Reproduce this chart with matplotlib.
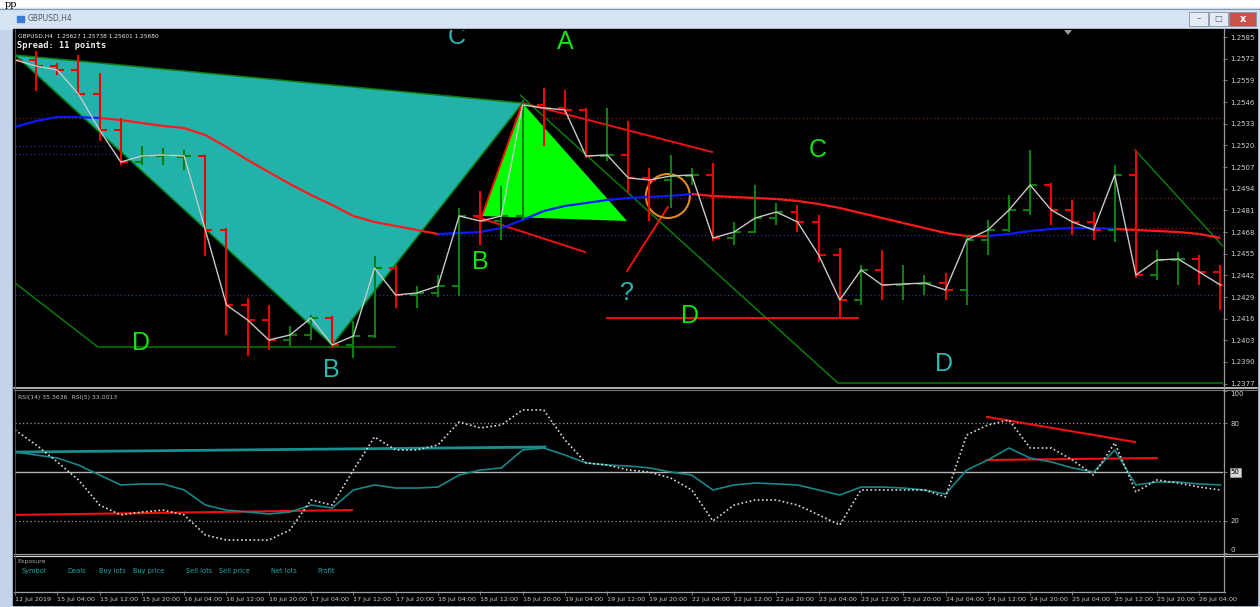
import matplotlib
matplotlib.use("Agg")
import matplotlib.pyplot as plt
from matplotlib.patches import Polygon, Ellipse, Rectangle
from matplotlib.collections import LineCollection

# ---------------- GBPUSD H4 bars (12 Jul 20:00 .. 26 Jul 08:00) ----------------
bar_open = [1.25724, 1.25712, 1.25676, 1.25652, 1.25508, 1.25292, 1.25100, 1.25136, 1.25130, 1.25136,
            1.24692, 1.24242, 1.24152, 1.24032, 1.24062, 1.24164, 1.24002, 1.24056, 1.24464, 1.24302,
            1.24314, 1.24356, 1.24776, 1.24746, 1.24776, 1.25442, 1.25424, 1.25412, 1.25136, 1.25142,
            1.25004, 1.24992, 1.25016, 1.25022, 1.24644, 1.24680, 1.24764, 1.24800, 1.24740, 1.24542,
            1.24272, 1.24452, 1.24362, 1.24368, 1.24374, 1.24332, 1.24632, 1.24692, 1.24812, 1.24962,
            1.24812, 1.24740, 1.24692, 1.25022, 1.24422, 1.24512, 1.24518, 1.24440]
bar_high = [1.25748, 1.25766, 1.25694, 1.25742, 1.25634, 1.25364, 1.25196, 1.25184, 1.25172, 1.25142,
            1.24704, 1.24284, 1.24242, 1.24116, 1.24182, 1.24176, 1.24146, 1.24536, 1.24482, 1.24356,
            1.24422, 1.24824, 1.24926, 1.24956, 1.25472, 1.25544, 1.25532, 1.25424, 1.25424, 1.25346,
            1.25064, 1.25142, 1.25064, 1.25094, 1.24740, 1.24962, 1.24854, 1.24842, 1.24782, 1.24584,
            1.24482, 1.24572, 1.24482, 1.24422, 1.24434, 1.24662, 1.24752, 1.24902, 1.25172, 1.24974,
            1.24872, 1.24800, 1.25082, 1.25172, 1.24572, 1.24560, 1.24542, 1.24482]
bar_low = [1.25688, 1.25526, 1.25622, 1.25502, 1.25226, 1.25082, 1.25082, 1.25082, 1.25052, 1.24536,
           1.24062, 1.23936, 1.23972, 1.23996, 1.24032, 1.23984, 1.23924, 1.24044, 1.24224, 1.24224,
           1.24290, 1.24296, 1.24602, 1.24632, 1.24752, 1.25196, 1.25394, 1.25124, 1.25106, 1.24914,
           1.24746, 1.24824, 1.24962, 1.24626, 1.24602, 1.24674, 1.24722, 1.24680, 1.24500, 1.24164,
           1.24242, 1.24272, 1.24272, 1.24302, 1.24272, 1.24242, 1.24542, 1.24680, 1.24782, 1.24722,
           1.24662, 1.24632, 1.24620, 1.24404, 1.24392, 1.24362, 1.24362, 1.24212]
bar_close = [1.25712, 1.25676, 1.25652, 1.25508, 1.25292, 1.25100, 1.25136, 1.25142, 1.25136, 1.24692,
             1.24242, 1.24152, 1.24032, 1.24062, 1.24164, 1.24002, 1.24056, 1.24464, 1.24302, 1.24314,
             1.24356, 1.24776, 1.24746, 1.24776, 1.25442, 1.25424, 1.25412, 1.25136, 1.25142, 1.25004,
             1.24992, 1.25016, 1.25022, 1.24644, 1.24680, 1.24764, 1.24800, 1.24740, 1.24542, 1.24272,
             1.24452, 1.24362, 1.24368, 1.24374, 1.24332, 1.24632, 1.24692, 1.24812, 1.24962, 1.24812,
             1.24740, 1.24692, 1.25022, 1.24422, 1.24512, 1.24518, 1.24440, 1.24362]

# two-colour moving average
ma_values = [1.25310, 1.25346, 1.25370, 1.25370, 1.25364, 1.25352, 1.25334, 1.25316, 1.25304, 1.25262,
             1.25190, 1.25112, 1.25040, 1.24968, 1.24902, 1.24842, 1.24776, 1.24740, 1.24716, 1.24692,
             1.24668, 1.24674, 1.24680, 1.24704, 1.24752, 1.24806, 1.24836, 1.24854, 1.24872, 1.24884,
             1.24890, 1.24896, 1.24908, 1.24896, 1.24890, 1.24884, 1.24878, 1.24866, 1.24848, 1.24824,
             1.24794, 1.24764, 1.24734, 1.24704, 1.24674, 1.24656, 1.24656, 1.24668, 1.24686, 1.24698,
             1.24704, 1.24704, 1.24698, 1.24692, 1.24686, 1.24680, 1.24668, 1.24644]
ma_trend = ["up"] * 4 + ["down"] * 16 + ["up"] * 12 + ["down"] * 14 + ["up"] * 6 + ["down"] * 5

# oscillator window
osc_slow = [62.3, 60.5, 58.6, 54.3, 48.1, 42.0, 42.6, 42.6, 38.9, 29.6,
            26.5, 25.3, 24.1, 25.3, 29.6, 27.8, 38.9, 42.0, 40.1, 40.1,
            40.7, 48.1, 51.2, 52.5, 63.6, 64.8, 60.5, 55.6, 54.3, 53.7,
            52.5, 50.0, 48.1, 38.9, 42.0, 43.2, 42.6, 42.0, 38.9, 35.8,
            40.7, 40.7, 40.1, 38.9, 36.4, 51.2, 57.4, 64.8, 58.6, 56.2,
            52.5, 50.0, 63.6, 42.0, 43.8, 43.8, 42.6, 42.0]
osc_fast = [75.9, 66.7, 56.2, 45.1, 29.6, 23.5, 25.3, 26.5, 23.5, 11.1,
            8.0, 8.0, 8.0, 14.2, 32.7, 29.6, 51.2, 71.6, 63.6, 63.6,
            66.7, 80.9, 77.2, 79.0, 88.3, 88.3, 69.8, 55.6, 54.3, 51.2,
            50.0, 46.3, 38.9, 19.8, 29.6, 32.7, 32.7, 29.6, 23.5, 17.3,
            38.9, 38.9, 38.9, 38.9, 34.6, 72.8, 79.0, 82.1, 64.8, 64.8,
            57.4, 48.1, 67.9, 37.7, 45.1, 43.2, 40.7, 38.9]
osc_levels = [80, 50, 20]

price_ticks = [1.2585, 1.2572, 1.2559, 1.2546, 1.2533, 1.2520, 1.2507, 1.2494, 1.2481,
               1.2468, 1.2455, 1.2442, 1.2429, 1.2416, 1.2403, 1.2390, 1.2377]
date_ticks = [0, 2, 4, 6, 8, 10, 12, 14, 16, 18, 20, 22, 24, 26, 28, 30, 32, 34, 36, 38,
              40, 42, 44, 46, 48, 50, 52, 54, 56]
date_labels = ["12 Jul 2019", "15 Jul 04:00", "15 Jul 12:00", "15 Jul 20:00", "16 Jul 04:00",
               "16 Jul 12:00", "16 Jul 20:00", "17 Jul 04:00", "17 Jul 12:00", "17 Jul 20:00",
               "18 Jul 04:00", "18 Jul 12:00", "18 Jul 20:00", "19 Jul 04:00", "19 Jul 12:00",
               "19 Jul 20:00", "22 Jul 04:00", "22 Jul 12:00", "22 Jul 20:00", "23 Jul 04:00",
               "23 Jul 12:00", "23 Jul 20:00", "24 Jul 04:00", "24 Jul 12:00", "24 Jul 20:00",
               "25 Jul 04:00", "25 Jul 12:00", "25 Jul 20:00", "26 Jul 04:00"]

# chart objects (bar index, price)
xab_triangle = [(0, 1.25742), (24, 1.25454), (15, 1.24002)]
abc_triangle = [(24, 1.25454), (22.08, 1.24776), (28.94, 1.24746)]
green_paths = [
    [(0, 1.25742), (24, 1.25454)],
    [(0, 1.25742), (15, 1.24002)],
    [(15, 1.24002), (24, 1.25454)],
    [(0, 1.24374), (3.92, 1.23990), (17.97, 1.23990)],
    [(23.9, 1.25500), (38.91, 1.23774), (57.3, 1.23774)],
    [(52.96, 1.25172), (57.5, 1.24542)],
]
red_paths = [
    [(24, 1.25454), (32.96, 1.25160)],
    [(21.7, 1.24776), (26.95, 1.24560)],
    [(22.08, 1.24776), (24, 1.25454)],
    [(28.94, 1.24446), (30.87, 1.24830)],
    [(27.99, 1.24164), (39.86, 1.24164)],
]
level_prices = [1.25364, 1.25196, 1.25148, 1.24884, 1.24704, 1.24662, 1.24302]
level_spans = [(0, 57.3), (0, 15), (0, 11), (27, 57.3), (52, 57.3), (20, 57.3), (0, 57.3)]
level_kinds = ["sell", "buy", "buy", "sell", "sell", "buy", "buy"]
circle_center = (30.87, 1.24896)
pattern_labels = [("C", 20.9, 1.25850, "cyan"), ("A", 26.0, 1.25820, "green"),
                  ("C", 37.97, 1.25172, "green"), ("B", 21.99, 1.24500, "green"),
                  ("?", 28.94, 1.24314, "cyan"), ("D", 31.9, 1.24176, "green"),
                  ("D", 5.96, 1.24014, "green"), ("B", 14.94, 1.23852, "cyan"),
                  ("D", 43.92, 1.23888, "cyan")]
osc_teal_line = [(0, 62.3), (25.06, 65.4)]
osc_red_lines = [[(0, 23.5), (15.93, 26.5)],
                 [(45.96, 84.0), (52.96, 68.5)],
                 [(45.96, 57.4), (54.0, 58.6)]]
exposure_cols = [("Symbol", 22), ("Deals", 67), ("Buy lots", 99), ("Buy price", 133),
                 ("Sell lots", 186), ("Sell price", 219), ("Net lots", 271), ("Profit", 317)]

# ---------------- figure / window chrome ----------------
W, H = 1260, 607
fig = plt.figure(figsize=(12.6, 6.07), dpi=100, facecolor="white")


def px_rect(x0, y0, x1, y1):
    return [x0 / W, 1 - y1 / H, (x1 - x0) / W, (y1 - y0) / H]


chrome = fig.add_axes([0, 0, 1, 1], zorder=0)
chrome.set_xlim(0, W)
chrome.set_ylim(H, 0)
chrome.axis("off")
chrome.add_patch(Rectangle((0, 8), W, H - 8, color="#c3d3e8"))
chrome.add_patch(Rectangle((0, 8), W, 21, color="#d6e3f3"))
chrome.plot([0, W], [8.5, 8.5], color="#8796aa", lw=0.8)
chrome.add_patch(Rectangle((13, 29), 1244, 576, color="black"))
chrome.add_patch(Rectangle((17, 16), 7, 6, color="#3a7bd5"))
chrome.text(28, 19, "GBPUSD,H4", fontsize=5.5, color="#505a66", va="center")
for bx, bw, fc in [(1189, 19, "#e4ebf4"), (1209, 19, "#e4ebf4"), (1229, 27, "#c9524a")]:
    chrome.add_patch(Rectangle((bx, 12), bw, 14, fc=fc, ec="#8391a5", lw=0.6))
chrome.text(1198.5, 19, "–", fontsize=6, color="#506070", ha="center", va="center")
chrome.text(1218.5, 19, "□", fontsize=6, color="#506070", ha="center", va="center")
chrome.text(1242.5, 19, "x", fontsize=7, color="white", ha="center", va="center", weight="bold")

xmax = 57.12

# ---------------- main price window ----------------
ax = fig.add_axes(px_rect(15, 30, 1223, 387), facecolor="black", zorder=2)
ax.set_xlim(0, xmax)
ax.set_ylim(1.23750, 1.25892)
for s in ax.spines.values():
    s.set_visible(False)
ax.set_xticks([])
ax.yaxis.tick_right()
ax.set_yticks(price_ticks)
ax.set_yticklabels([f"{v:.4f}" for v in price_ticks])
ax.tick_params(axis="y", color="#8c8c8c", labelcolor="#d0d0d0", labelsize=5,
               length=3, width=0.6, pad=2.5)

level_color = {"sell": "#8e1c1c", "buy": "#22349a"}
for p, (x0, x1), kind in zip(level_prices, level_spans, level_kinds):
    ax.plot([x0, x1], [p, p], color=level_color[kind], lw=0.9, ls=(0, (1, 2)), zorder=1)

ax.add_patch(Polygon(xab_triangle, closed=True, fc="#22b2aa", ec="none", zorder=2))
ax.add_patch(Polygon(abc_triangle, closed=True, fc="#00ff00", ec="none", zorder=2.1))
for path in green_paths:
    ax.plot([q[0] for q in path], [q[1] for q in path], color="#0b7a0b", lw=1.1, zorder=3)
for path in red_paths:
    ax.plot([q[0] for q in path], [q[1] for q in path], color="#f01010", lw=1.4, zorder=3)
ax.add_patch(Ellipse(circle_center, 2.08, 0.00264, fill=False, ec="#e0891e", lw=1.5, zorder=3))

xs = list(range(len(bar_close)))
ma_pts = list(zip(xs, ma_values))
segs = [[ma_pts[i], ma_pts[i + 1]] for i in range(len(ma_pts) - 1)]
ma_cols = ["#0a1cff" if t == "up" else "#ff1a1a" for t in ma_trend]
ax.add_collection(LineCollection(segs, colors=ma_cols, linewidths=1.6, zorder=4))

bar_cols = ["#0e7e0e" if c >= o else "#f00000" for o, c in zip(bar_open, bar_close)]
tick = 0.33
ax.vlines(xs, bar_low, bar_high, colors=bar_cols, lw=1.5, zorder=5)
ax.hlines(bar_open, [x - tick for x in xs], xs, colors=bar_cols, lw=1.5, zorder=5)
ax.hlines(bar_close, xs, [x + tick for x in xs], colors=bar_cols, lw=1.5, zorder=5)
ax.plot(xs, bar_close, color="#c8c8c8", lw=1.0, zorder=6)

label_color = {"green": "#12e612", "cyan": "#2cb8b2"}
for txt, lx, ly, c in pattern_labels:
    ax.text(lx, ly, txt, color=label_color[c], fontsize=18, family="Liberation Sans",
            ha="center", va="center", zorder=7, clip_on=True)

# ---------------- oscillator window ----------------
ind = fig.add_axes(px_rect(15, 390, 1223, 553), facecolor="black", zorder=2)
ind.set_xlim(0, xmax)
ind.set_ylim(0, 100.6)
for s in ind.spines.values():
    s.set_visible(False)
ind.set_xticks([])
ind.yaxis.tick_right()
ind.set_yticks([0, 20, 50, 80, 100])
ind.set_yticklabels(["0", "20", "50", "80", "100"])
ind.tick_params(axis="y", color="#8c8c8c", labelcolor="#d0d0d0", labelsize=5,
                length=3, width=0.6, pad=2.5)
tl = ind.get_yticklabels()
tl[0].set_va("bottom")
tl[4].set_va("top")
tl[2].set_bbox(dict(fc="#d8d8d8", ec="#a0a0a0", pad=0.8, lw=0.5))
tl[2].set_color("black")
for lv in osc_levels:
    if lv == 50:
        ind.axhline(lv, color="#b4b4b4", lw=1.0, zorder=1)
    else:
        ind.axhline(lv, color="#9a9a9a", lw=0.9, ls=(0, (1, 2)), zorder=1)
ind.plot([q[0] for q in osc_teal_line], [q[1] for q in osc_teal_line], color="#1a8f8f", lw=2, zorder=2)
for path in osc_red_lines:
    ind.plot([q[0] for q in path], [q[1] for q in path], color="#f01010", lw=1.5, zorder=2)
ind.plot(xs, osc_slow, color="#168888", lw=1.2, zorder=3)
ind.plot(xs, osc_fast, color="#dadada", lw=1.2, ls=(0, (1, 1.5)), zorder=3)

# ---------------- exposure window + time scale ----------------
ex = fig.add_axes(px_rect(15, 556, 1223, 591), facecolor="black", zorder=2)
ex.set_xlim(0, xmax)
ex.set_ylim(0, 1)
for s in ex.spines.values():
    s.set_visible(False)
ex.set_yticks([])
ex.set_xticks(date_ticks)
ex.set_xticklabels(date_labels)
for lbl in ex.get_xticklabels():
    lbl.set_ha("left")
ex.tick_params(axis="x", color="#8c8c8c", labelcolor="#cfcfcf", labelsize=4.6,
               length=3, width=0.6, pad=1.5)

# ---------------- overlay: separators and window texts ----------------
over = fig.add_axes([0, 0, 1, 1], zorder=10)
over.set_xlim(0, W)
over.set_ylim(H, 0)
over.axis("off")
over.patch.set_alpha(0)
over.text(5, 0.3, "pp", fontsize=7, family="DejaVu Serif", color="black", va="top")
over.plot([14, 1257], [387.8, 387.8], color="#e2e2e2", lw=1.1)
over.plot([14, 1257], [389.8, 389.8], color="#7a7a7a", lw=0.8)
over.plot([14, 1257], [553.5, 553.5], color="#9a9a9a", lw=0.9)
over.plot([14, 1257], [555.5, 555.5], color="#d4d4d4", lw=0.9)
over.plot([14, 1225], [591.5, 591.5], color="#a0a0a0", lw=0.9)
over.plot([1223.5, 1223.5], [29, 592], color="#9a9a9a", lw=0.9)
over.plot([14.5, 14.5], [29, 592], color="#5a5a5a", lw=0.6)
over.add_patch(Polygon([(1064, 30), (1072, 30), (1068, 35)], closed=True, fc="#9a9a9a", ec="none"))
over.text(18, 36, "GBPUSD,H4  1.25627 1.25738 1.25601 1.25680", fontsize=4.2,
          color="#e8e8e8", va="center")
over.text(17, 45, "Spread: 11 points", fontsize=6.2, family="DejaVu Sans Mono",
          weight="bold", color="#f0f0f0", va="center")
over.text(18, 397, "RSI(14) 35.3636  RSI(5) 33.0013", fontsize=4.4, color="#bdbdbd", va="center")
over.text(17, 562, "Exposure", fontsize=4.4, color="#a8a8a8", va="center")
for name, cx in exposure_cols:
    over.text(cx, 571, name, fontsize=4.8, color="#2aa4a4", va="center")

fig.savefig("out.png", dpi=100, facecolor=fig.get_facecolor())
